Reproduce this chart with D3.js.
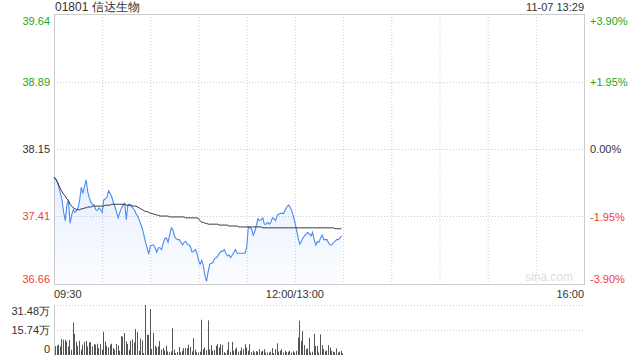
<!DOCTYPE html>
<html>
<head>
<meta charset="utf-8">
<script src="https://cdn.jsdelivr.net/npm/d3@7"></script>
<style>
  body { margin: 0; background: #fff; }
  svg text { font-family: "Liberation Sans", Arial, sans-serif; }
</style>
</head>
<body>
<div id="chart"></div>
<script>
//Data
var title = "01801 信达生物";
var stamp = "11-07 13:29";
var prevClose = 38.15;

var priceTicks = [39.64, 38.89, 38.15, 37.41, 36.66];
var pctTicks = ["+3.90%", "+1.95%", "0.00%", "-1.95%", "-3.90%"];
var volTicks = [31.48, 15.74, 0];
var volTickLabels = ["31.48万", "15.74万", "0"];
var timeLabels = ["09:30", "12:00/13:00", "16:00"];
var timeLabelMinutes = [0, 150, 330];

// one value per minute from 09:30 (minute 150 = 13:00)
var prices = [
  37.84, 37.82, 37.79, 37.73, 37.66, 37.59, 37.45, 37.36, 37.53, 37.59,
  37.33, 37.42, 37.48, 37.45, 37.47, 37.50, 37.59, 37.73, 37.66, 37.74,
  37.81, 37.68, 37.61, 37.56, 37.54, 37.53, 37.48, 37.47, 37.50, 37.48,
  37.45, 37.59, 37.60, 37.62, 37.69, 37.66, 37.62, 37.56, 37.51, 37.45,
  37.39, 37.45, 37.50, 37.53, 37.55, 37.37, 37.53, 37.54, 37.52, 37.50,
  37.48, 37.44, 37.41, 37.37, 37.32, 37.27, 37.20, 37.12, 37.06, 36.99,
  37.08, 37.09, 37.09, 37.06, 37.01, 37.06, 37.06, 37.04, 37.11, 37.16,
  37.17, 37.12, 37.20, 37.28, 37.26, 37.19, 37.16, 37.15, 37.15, 37.12,
  37.09, 37.12, 37.13, 37.10, 37.09, 37.07, 37.01, 37.02, 37.04, 37.00,
  36.92, 36.88, 36.92, 36.86, 36.75, 36.69, 36.80, 36.88, 36.89, 36.90,
  36.94, 36.95, 36.97, 37.00, 37.02, 37.02, 37.04, 37.00, 36.97, 36.98,
  36.95, 36.98, 37.01, 37.04, 37.00, 37.00, 37.00, 37.00, 37.00, 37.00,
  37.07, 37.29, 37.28, 37.27, 37.20, 37.24, 37.31, 37.38, 37.36, 37.37,
  37.39, 37.32, 37.32, 37.34, 37.32, 37.34, 37.39, 37.38, 37.36, 37.42,
  37.43, 37.44, 37.44, 37.44, 37.48, 37.51, 37.53, 37.51, 37.47, 37.41,
  37.34, 37.26, 37.17, 37.10, 37.13, 37.17, 37.19, 37.21, 37.23, 37.21,
  37.19, 37.23, 37.15, 37.09, 37.13, 37.12, 37.17, 37.20, 37.15, 37.15,
  37.15, 37.11, 37.09, 37.09, 37.12, 37.13, 37.15, 37.15, 37.17, 37.19
];

var avgPrices = [
  37.84, 37.82, 37.79, 37.75, 37.71, 37.68, 37.65, 37.63, 37.60, 37.58,
  37.54, 37.52, 37.50, 37.49, 37.48, 37.48, 37.48, 37.49, 37.49, 37.50,
  37.50, 37.51, 37.51, 37.51, 37.52, 37.52, 37.52, 37.52, 37.52, 37.52,
  37.52, 37.52, 37.53, 37.53, 37.53, 37.53, 37.54, 37.54, 37.54, 37.54,
  37.54, 37.54, 37.54, 37.54, 37.54, 37.53, 37.53, 37.53, 37.53, 37.52,
  37.52, 37.52, 37.51, 37.50, 37.49, 37.48, 37.47, 37.46, 37.46, 37.45,
  37.44, 37.44, 37.43, 37.43, 37.42, 37.42, 37.41, 37.41, 37.41, 37.41,
  37.41, 37.41, 37.40, 37.40, 37.40, 37.40, 37.40, 37.40, 37.40, 37.40,
  37.40, 37.40, 37.39, 37.39, 37.39, 37.39, 37.39, 37.39, 37.39, 37.39,
  37.38, 37.36, 37.34, 37.34, 37.33, 37.33, 37.32, 37.32, 37.32, 37.32,
  37.32, 37.32, 37.32, 37.31, 37.31, 37.31, 37.31, 37.31, 37.31, 37.30,
  37.30, 37.30, 37.30, 37.30, 37.30, 37.29, 37.29, 37.29, 37.29, 37.29,
  37.29, 37.29, 37.29, 37.29, 37.29, 37.29, 37.29, 37.29, 37.29, 37.29,
  37.28, 37.28, 37.28, 37.28, 37.28, 37.28, 37.28, 37.28, 37.28, 37.28,
  37.28, 37.28, 37.28, 37.28, 37.28, 37.28, 37.28, 37.28, 37.28, 37.28,
  37.28, 37.28, 37.28, 37.28, 37.28, 37.28, 37.28, 37.28, 37.28, 37.28,
  37.28, 37.28, 37.28, 37.28, 37.28, 37.28, 37.28, 37.28, 37.28, 37.28,
  37.28, 37.28, 37.28, 37.28, 37.28, 37.27, 37.27, 37.27, 37.27, 37.27
];

// volume in 万 shares
var volumes = [
  5.0, 5.5, 6.0, 4.9, 9.6, 9.1, 9.1, 8.1, 4.9, 9.1,
  2.8, 20.2, 13.0, 7.9, 5.3, 8.5, 2.8, 6.0, 7.7, 8.5,
  4.9, 7.4, 7.7, 4.9, 6.4, 6.0, 6.6, 3.8, 6.4, 2.8,
  14.3, 8.1, 5.3, 4.3, 6.0, 6.6, 3.8, 2.8, 6.4, 5.5,
  2.1, 11.5, 11.1, 13.4, 8.1, 6.4, 2.8, 8.5, 9.4, 7.4,
  16.0, 14.0, 2.1, 10.0, 8.7, 0.6, 31.48, 12.3, 12.3, 28.9,
  3.2, 13.4, 5.3, 4.3, 4.9, 8.3, 2.8, 3.8, 2.3, 5.3,
  1.7, 1.1, 1.7, 16.6, 2.8, 0.6, 1.3, 4.5, 1.1, 2.1,
  3.8, 3.8, 3.8, 6.0, 4.5, 1.7, 10.2, 2.8, 1.1, 1.1,
  1.5, 22.0, 3.1, 4.2, 2.5, 21.6, 3.0, 5.7, 2.1, 2.5,
  5.2, 6.3, 4.2, 6.3, 5.7, 1.2, 0.6, 2.7, 7.8, 1.5,
  7.8, 2.1, 3.1, 4.2, 1.5, 2.1, 4.2, 3.1, 6.3, 4.2,
  2.1, 6.3, 1.2, 2.1, 1.0, 1.9, 1.5, 3.1, 1.5, 2.1,
  3.1, 1.0, 1.0, 1.0, 1.5, 3.8, 0.6, 3.1, 6.9, 1.5,
  2.1, 3.1, 1.0, 2.1, 1.2, 1.5, 2.1, 1.0, 1.8, 1.0,
  2.1, 10.5, 21.4, 8.4, 14.7, 5.7, 3.1, 3.6, 10.5, 1.0,
  1.5, 13.0, 5.2, 5.2, 1.0, 12.6, 5.7, 3.1, 1.7, 2.3,
  5.7, 4.2, 2.1, 1.5, 1.2, 3.6, 1.0, 1.5, 2.1, 0.4
];

var green = "#22a822";
var red = "#f03c3c";
var dark = "#333";
var lineColor = "#4a8af4";

//Setup
var width = 640, height = 360;
var plot = { left: 54, right: 584, top: 14, bottom: 284 };
var vol = { top: 305, bottom: 354 };

var x = d3.scaleLinear().domain([0, 330]).range([plot.left, plot.right]);
var y = d3.scaleLinear().domain([36.66, 39.64]).range([plot.bottom, plot.top]);
var vy = d3.scaleLinear().domain([0, 31.48]).range([vol.bottom, vol.top]);

function tickColor(v) {
  if (Math.abs(v - prevClose) < 0.005) return dark;
  return v > prevClose ? green : red;
}

var svg = d3.select("#chart")
  .append("svg")
  .attr("width", width)
  .attr("height", height);

//Gridlines
var gridMinutes = d3.range(30, 330, 30);
svg.append("g").selectAll("line")
  .data(gridMinutes)
  .join("line")
  .attr("x1", d => x(d) + 0.5).attr("x2", d => x(d) + 0.5)
  .attr("y1", plot.top).attr("y2", plot.bottom)
  .attr("stroke", "#ccc")
  .attr("stroke-dasharray", "1,2");

svg.append("g").selectAll("line")
  .data(priceTicks.slice(1, 4))
  .join("line")
  .attr("x1", plot.left).attr("x2", plot.right)
  .attr("y1", d => Math.round(y(d)) + 0.5).attr("y2", d => Math.round(y(d)) + 0.5)
  .attr("stroke", "#ccc")
  .attr("stroke-dasharray", "1,2");

svg.append("g").selectAll("line")
  .data(volTicks.slice(0, 2))
  .join("line")
  .attr("x1", plot.left).attr("x2", plot.right)
  .attr("y1", d => Math.round(vy(d)) + 0.5).attr("y2", d => Math.round(vy(d)) + 0.5)
  .attr("stroke", "#ccc")
  .attr("stroke-dasharray", "1,2");

//Frame
svg.append("rect")
  .attr("x", plot.left + 0.5).attr("y", plot.top + 0.5)
  .attr("width", plot.right - plot.left).attr("height", plot.bottom - plot.top)
  .attr("fill", "none")
  .attr("stroke", "#ccc");

svg.append("line")
  .attr("x1", plot.left + 0.5).attr("x2", plot.left + 0.5)
  .attr("y1", vol.top).attr("y2", vol.bottom + 2)
  .attr("stroke", "#ccc");

//Watermark
svg.append("text")
  .attr("x", 573).attr("y", 281)
  .attr("text-anchor", "end")
  .attr("font-size", 12)
  .attr("fill", "#ddd")
  .text("sina.com");

//Price area + lines
var defs = svg.append("defs");
var grad = defs.append("linearGradient")
  .attr("id", "fillGrad")
  .attr("x1", 0).attr("y1", 0).attr("x2", 0).attr("y2", 1);
grad.append("stop").attr("offset", "0%").attr("stop-color", lineColor).attr("stop-opacity", 0.13);
grad.append("stop").attr("offset", "100%").attr("stop-color", lineColor).attr("stop-opacity", 0.02);

var area = d3.area()
  .x((d, i) => x(i))
  .y0(plot.bottom)
  .y1(d => y(d));

svg.append("path")
  .attr("fill", "url(#fillGrad)")
  .attr("d", area(prices));

var priceLine = d3.line()
  .x((d, i) => x(i))
  .y(d => y(d));

svg.append("path")
  .attr("fill", "none")
  .attr("stroke", lineColor)
  .attr("stroke-width", 1.1)
  .attr("d", priceLine(prices));

svg.append("path")
  .attr("fill", "none")
  .attr("stroke", "#333")
  .attr("stroke-width", 1)
  .attr("d", priceLine(avgPrices));

//Volume bars
svg.append("g").selectAll("rect")
  .data(volumes)
  .join("rect")
  .attr("x", (d, i) => Math.round(x(i)) + 1)
  .attr("width", 1)
  .attr("y", d => vy(d))
  .attr("height", d => vol.bottom + 1 - vy(d))
  .attr("fill", "#555");

//Axis labels
var leftAxis = svg.append("g")
  .attr("transform", `translate(${plot.left - 4},0)`)
  .call(d3.axisLeft(y).tickValues(priceTicks).tickSize(0).tickPadding(0).tickFormat(d3.format(".2f")));
leftAxis.select(".domain").remove();
leftAxis.selectAll("text")
  .attr("font-size", 11)
  .attr("font-family", "Liberation Sans, Arial, sans-serif")
  .attr("fill", d => tickColor(d))
  .attr("dy", (d, i) => i === 0 ? "0.95em" : (i === priceTicks.length - 1 ? "-0.15em" : "0.32em"));

var pctScale = d3.scalePoint().domain(pctTicks).range([plot.top, plot.bottom]);
var rightAxis = svg.append("g")
  .attr("transform", `translate(${plot.right + 6},0)`)
  .call(d3.axisRight(pctScale).tickSize(0).tickPadding(0));
rightAxis.select(".domain").remove();
rightAxis.selectAll("text")
  .attr("font-size", 11)
  .attr("font-family", "Liberation Sans, Arial, sans-serif")
  .attr("fill", (d, i) => tickColor(priceTicks[i]))
  .attr("dy", (d, i) => i === 0 ? "0.95em" : (i === pctTicks.length - 1 ? "-0.15em" : "0.32em"));

var volAxis = svg.append("g")
  .attr("transform", `translate(${plot.left - 4},0)`)
  .call(d3.axisLeft(vy).tickValues(volTicks).tickSize(0).tickPadding(0)
    .tickFormat((d, i) => volTickLabels[i]));
volAxis.select(".domain").remove();
volAxis.selectAll("text")
  .attr("font-size", 11)
  .attr("font-family", "Liberation Sans, Arial, sans-serif")
  .attr("fill", dark)
  .attr("dy", (d, i) => i === 0 ? "0.85em" : (i === volTicks.length - 1 ? "-0.1em" : "0.32em"));

//Time labels
svg.append("g").selectAll("text")
  .data(timeLabels)
  .join("text")
  .attr("x", (d, i) => x(timeLabelMinutes[i]))
  .attr("y", 298)
  .attr("text-anchor", (d, i) => i === 0 ? "start" : (i === timeLabels.length - 1 ? "end" : "middle"))
  .attr("font-size", 11)
  .attr("fill", dark)
  .text(d => d);

//Title and stamp
svg.append("text")
  .attr("x", plot.left + 1).attr("y", 11)
  .attr("font-size", 12)
  .attr("fill", dark)
  .text(title);

svg.append("text")
  .attr("x", plot.right).attr("y", 11)
  .attr("text-anchor", "end")
  .attr("font-size", 11)
  .attr("fill", dark)
  .text(stamp);
</script>
</body>
</html>
